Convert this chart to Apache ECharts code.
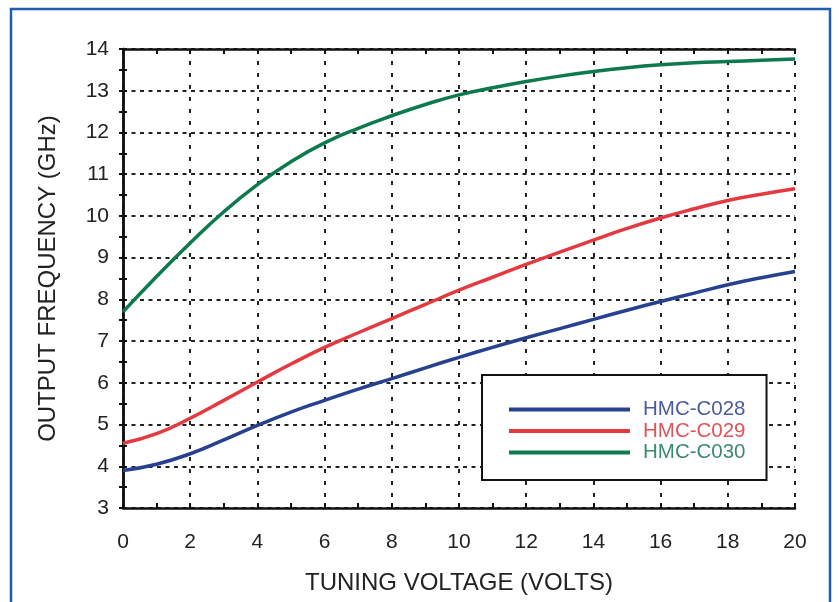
<!DOCTYPE html>
<html>
<head>
<meta charset="utf-8">
<script src="https://cdn.jsdelivr.net/npm/echarts@6/dist/echarts.min.js"></script>
<style>
html,body{margin:0;padding:0;background:#fff;}
#chart{width:840px;height:602px;}
</style>
</head>
<body>
<div id="chart"></div>
<script>
// Tuning voltage (V)
const voltage = [0,1,2,3,4,5,6,7,8,9,10,11,12,13,14,15,16,17,18,19,20];
// Output frequency (GHz)
const hmcC028 = [3.9,4.05,4.3,4.63,4.98,5.3,5.58,5.85,6.1,6.36,6.61,6.85,7.08,7.3,7.52,7.74,7.95,8.15,8.35,8.52,8.67];
const hmcC029 = [4.55,4.78,5.15,5.58,6.02,6.45,6.85,7.2,7.54,7.88,8.22,8.53,8.84,9.13,9.42,9.7,9.95,10.17,10.37,10.52,10.65];
const hmcC030 = [7.7,8.55,9.35,10.1,10.75,11.3,11.75,12.1,12.4,12.67,12.9,13.07,13.22,13.35,13.46,13.55,13.62,13.67,13.7,13.73,13.76];
const seriesNames = ['HMC-C028','HMC-C029','HMC-C030'];
const xTitle = 'TUNING VOLTAGE (VOLTS)';
const yTitle = 'OUTPUT FREQUENCY (GHz)';

const lineColors = ['#26418f','#e4393f','#0c7a4c'];
const textColors = ['#4a5a9e','#e2525a','#3b8c6b'];
const font = 'Liberation Sans, Arial, Helvetica, sans-serif';

const pair = ys => voltage.map((x,i)=>[x, ys[i]]);

const chart = echarts.init(document.getElementById('chart'), null, {renderer:'canvas'});
const axisLine = {show:true, lineStyle:{color:'#111', width:2.5}};
const option = {
  backgroundColor:'#fff',
  animation:false,
  graphic:[{
    type:'rect', silent:true, z:-1,
    shape:{x:11, y:9, width:819, height:640},
    style:{fill:'none', stroke:'#1f5db2', lineWidth:2.5}
  }],
  grid:{left:123, right:45, top:49, bottom:94},
  legend:{
    orient:'vertical', left:482, top:375,
    padding:[24,21,17,27],
    backgroundColor:'#fff', borderColor:'#111', borderWidth:2,
    itemWidth:121, itemHeight:4, itemGap:0.5, icon:'rect',
    textStyle:{fontFamily:font, fontSize:20.5, lineHeight:20, padding:[0,0,0,8]},
    data: seriesNames.map((n,i)=>({name:n, textStyle:{color:textColors[i]}}))
  },
  xAxis:[{
    type:'value', min:0, max:20, interval:2,
    name:xTitle, nameLocation:'middle', nameGap:63,
    nameTextStyle:{fontFamily:font, fontSize:24, color:'#222'},
    axisLine:axisLine,
    axisTick:{show:true, inside:true, length:5, lineStyle:{color:'#111', width:2}},
    minorTick:{show:true, splitNumber:2, length:5, lineStyle:{color:'#111', width:2}},
    axisLabel:{fontFamily:font, fontSize:21, color:'#222', margin:24},
    splitLine:{show:true, lineStyle:{color:'#222', width:2, type:[4,8]}}
  },{
    type:'value', min:0, max:20, interval:2, position:'top',
    axisLine:axisLine,
    axisTick:{show:true, inside:true, length:5, lineStyle:{color:'#111', width:2}},
    minorTick:{show:true, splitNumber:2, length:5, lineStyle:{color:'#111', width:2}},
    axisLabel:{show:false}, splitLine:{show:false}
  }],
  yAxis:[{
    type:'value', min:3, max:14, interval:1,
    name:yTitle, nameLocation:'middle', nameGap:63,
    nameTextStyle:{fontFamily:font, fontSize:24, color:'#222'},
    axisLine:axisLine,
    axisTick:{show:true, inside:true, length:4, lineStyle:{color:'#111', width:2}},
    minorTick:{show:true, splitNumber:2, length:4, lineStyle:{color:'#111', width:2}},
    axisLabel:{fontFamily:font, fontSize:21, color:'#222', margin:14},
    splitLine:{show:true, lineStyle:{color:'#222', width:2, type:[4,4.5]}}
  },{
    type:'value', min:3, max:14, interval:1, position:'right',
    axisLine:axisLine,
    axisTick:{show:true, inside:true, length:4, lineStyle:{color:'#111', width:2}},
    minorTick:{show:true, splitNumber:2, length:4, lineStyle:{color:'#111', width:2}},
    axisLabel:{show:false}, splitLine:{show:false}
  }],
  series:[hmcC028,hmcC029,hmcC030].map((d,i)=>({
    name:seriesNames[i], type:'line', data:pair(d), smooth:0.5,
    showSymbol:false, xAxisIndex:0, yAxisIndex:0,
    itemStyle:{color:lineColors[i]},
    lineStyle:{color:lineColors[i], width:3.5}
  }))
};
chart.setOption(option);
</script>
</body>
</html>
